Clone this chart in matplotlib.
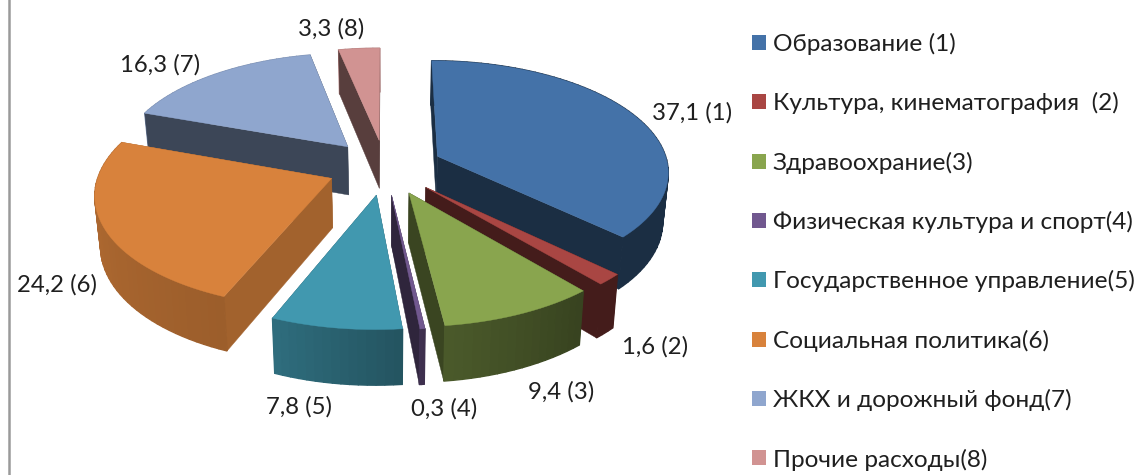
import numpy as np
import matplotlib
matplotlib.use("Agg")
import matplotlib.pyplot as plt
from matplotlib.patches import Patch

# ---- data ----
categories = ["Образование (1)", "Культура, кинематография  (2)", "Здравоохрание(3)",
              "Физическая культура и спорт(4)", "Государственное управление(5)",
              "Социальная политика(6)", "ЖКХ и дорожный фонд(7)", "Прочие расходы(8)"]
values = [37.1, 1.6, 9.4, 0.3, 7.8, 24.2, 16.3, 3.3]
value_labels = ["37,1 (1)", "1,6 (2)", "9,4 (3)", "0,3 (4)", "7,8 (5)", "24,2 (6)", "16,3 (7)", "3,3 (8)"]

# ---- style ----
top_colors = ["#4472A8", "#A94643", "#89A54E", "#71588F", "#4198AF", "#D8823C", "#8FA6CE", "#D19392"]
radial_shade = [0.40, 0.40, 0.42, 0.42, 0.54, 0.75, 0.42, 0.42]
label_xy = [(692, 113), (655, 347), (561, 392), (444, 409), (299, 407), (57, 285), (160, 65), (331, 29)]
CX, CY, R0, RY, PERSP, EXPLODE, HEIGHT = 385, 167, 231, 110, 0.125, 0.25, 49

plt.rcParams["font.family"] = ["Lato", "Open Sans", "DejaVu Sans"]
TEXT = "#1f1f1f"

fig = plt.figure(figsize=(11.39, 4.75), dpi=100)
ax = fig.add_axes([0, 0, 1, 1])
ax.set_xlim(0, 1139)
ax.set_ylim(475, 0)
ax.axis("off")


def project(X, Y, z=0.0):
    k = 1.0 / (1.0 + PERSP * np.asarray(Y))
    sx = CX + R0 * np.asarray(X) * k * (1 - 0.02 * z)
    sy = CY - RY * np.asarray(Y) * k + z * HEIGHT * k ** 0.75
    return sx, sy


def shade(color, f):
    return tuple(c * f for c in matplotlib.colors.to_rgb(color))


def rim_factor(t):
    return np.interp(t, [100, 139, 174, 202, 289], [0.40, 0.40, 0.55, 0.72, 0.85])


fracs = np.array(values) / np.sum(values) * 360.0
ends = np.cumsum(fracs)
starts = ends - fracs
mids = (starts + ends) / 2

slices = []
for i in range(len(values)):
    ox = EXPLODE * np.sin(np.radians(mids[i]))
    oy = EXPLODE * np.cos(np.radians(mids[i]))
    slices.append((oy, i, ox))

# painter's order: far slices first
for oy, i, ox in sorted(slices, key=lambda s: -s[0]):
    ts = np.linspace(starts[i], ends[i], max(4, int(fracs[i] / 2) + 2))
    rx = ox + np.sin(np.radians(ts))
    ry = oy + np.cos(np.radians(ts))
    col = top_colors[i]
    faces = []
    # radial faces
    for a, b, t in ((rx[0], ry[0], ts[0]), (rx[-1], ry[-1], ts[-1])):
        xs = [ox, a, a, ox]
        ys = [oy, b, b, oy]
        zs = [0, 0, 1, 1]
        faces.append(((oy + b) / 2, xs, ys, zs, shade(col, radial_shade[i]), 0.3))
    # rim strips
    for j in range(len(ts) - 1):
        xs = [rx[j], rx[j + 1], rx[j + 1], rx[j]]
        ys = [ry[j], ry[j + 1], ry[j + 1], ry[j]]
        zs = [0, 0, 1, 1]
        faces.append(((ry[j] + ry[j + 1]) / 2, xs, ys, zs,
                      shade(col, rim_factor((ts[j] + ts[j + 1]) / 2)), 1.0))
    for _, xs, ys, zs, c, lw in sorted(faces, key=lambda f: -f[0]):
        px, py = project(np.array(xs), np.array(ys), np.array(zs))
        ax.fill(px, py, facecolor=c, edgecolor=c, lw=lw)
    px, py = project(np.r_[ox, rx], np.r_[oy, ry])
    ax.fill(px, py, facecolor=col, edgecolor=col, lw=0.3)

for txt, (x, y) in zip(value_labels, label_xy):
    ax.text(x, y, txt, ha="center", va="center", fontsize=17.2, color=TEXT)

handles = [Patch(facecolor=c, edgecolor="none") for c in top_colors]
ax.legend(handles, categories, loc="upper left", bbox_to_anchor=(752 / 1139, 1 - 33 / 475),
          frameon=False, fontsize=17.6, handlelength=0.57, handleheight=0.57, handletextpad=0.28,
          labelspacing=1.524, borderpad=0, borderaxespad=0, labelcolor=TEXT)

ax.plot([8.5, 8.5], [0, 475], color="#9a9a9a", lw=1.8)

fig.savefig("out.png", dpi=100)
